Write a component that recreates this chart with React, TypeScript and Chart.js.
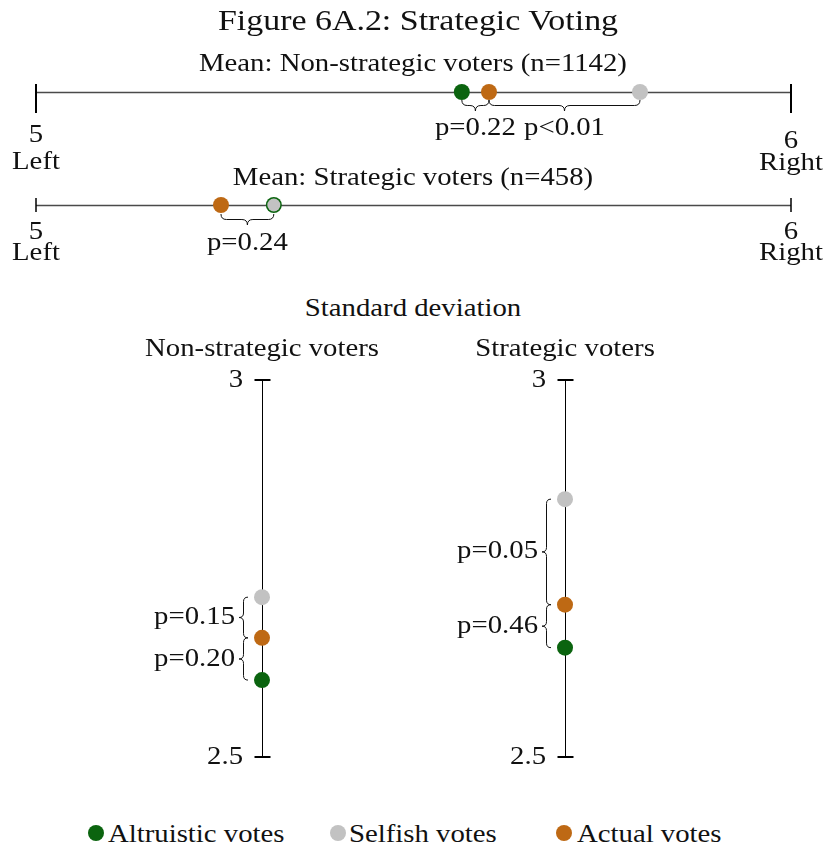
import React, { useEffect, useRef } from "react";
import { Chart, registerables } from "chart.js";

Chart.register(...registerables);

const FONT = '"Liberation Serif", "Times New Roman", serif';
const STRETCH = 1.15;
const INK = "#111111";

const GREEN = "#0b640f";
const GRAY = "#c2c2c2";
const ORANGE = "#be6914";

// ---- Means (left-right scale, 5 = Left, 6 = Right) ----
const meanRowTitles = ["Mean: Non-strategic voters (n=1142)", "Mean: Strategic voters (n=458)"];
const meanAltruistic = [5.564, 5.315];
const meanSelfish = [5.8, 5.315];
const meanActual = [5.6, 5.245];
const meanAxisMin = 5;
const meanAxisMax = 6;
const meanTickLabels = [["5", "Left"], ["6", "Right"]];
const meanBraceRow = [0, 0, 1];
const meanBraceFrom = [5.564, 5.6, 5.245];
const meanBraceTo = [5.6, 5.8, 5.315];
const meanBraceLabels = ["p=0.22", "p<0.01", "p=0.24"];

// ---- Standard deviations ----
const sdGroups = ["Non-strategic voters", "Strategic voters"];
const sdAltruistic = [2.602, 2.645];
const sdSelfish = [2.712, 2.842];
const sdActual = [2.658, 2.702];
const sdAxisMin = 2.5;
const sdAxisMax = 3;
const sdTickLabels = ["2.5", "3"];
const sdBraceGroup = [0, 0, 1, 1];
const sdBraceFrom = [2.712, 2.658, 2.842, 2.702];
const sdBraceTo = [2.658, 2.602, 2.702, 2.645];
const sdBraceLabels = ["p=0.15", "p=0.20", "p=0.05", "p=0.46"];

const seriesNames = ["Altruistic votes", "Selfish votes", "Actual votes"];
const seriesColors = [GREEN, GRAY, ORANGE];

function sText(ctx: CanvasRenderingContext2D, t: string, x: number, y: number, align: CanvasTextAlign, size = 25) {
  ctx.save();
  ctx.translate(x, y);
  ctx.scale(STRETCH, 1);
  ctx.font = `${size}px ${FONT}`;
  ctx.textAlign = align;
  ctx.textBaseline = "middle";
  ctx.fillStyle = INK;
  ctx.fillText(t, 0, 0);
  ctx.restore();
}

// brace along "t" axis from a to b, depth from 0 (edge) to h (tip); map(t,d) -> [x,y]
function brace(ctx: CanvasRenderingContext2D, a: number, b: number, h: number, map: (t: number, d: number) => [number, number]) {
  const mid = (a + b) / 2;
  const s = b > a ? 1 : -1;
  const q = Math.min(h / 2, Math.abs(b - a) / 4) * s;
  const P = (t: number, d: number) => map(t, d);
  ctx.save();
  ctx.strokeStyle = INK;
  ctx.lineWidth = 1;
  ctx.beginPath();
  let p = P(a, 0);
  ctx.moveTo(p[0], p[1]);
  let c = P(a, h / 2); p = P(a + q, h / 2);
  ctx.quadraticCurveTo(c[0], c[1], p[0], p[1]);
  p = P(mid - q, h / 2); ctx.lineTo(p[0], p[1]);
  c = P(mid, h / 2); p = P(mid, h);
  ctx.quadraticCurveTo(c[0], c[1], p[0], p[1]);
  c = P(mid, h / 2); p = P(mid + q, h / 2);
  ctx.quadraticCurveTo(c[0], c[1], p[0], p[1]);
  p = P(b - q, h / 2); ctx.lineTo(p[0], p[1]);
  c = P(b, h / 2); p = P(b, 0);
  ctx.quadraticCurveTo(c[0], c[1], p[0], p[1]);
  ctx.stroke();
  ctx.restore();
}

const meanAxesPlugin = {
  id: "meanAxes",
  beforeDatasetsDraw(chart: any) {
    const { ctx, scales } = chart;
    const x = scales.x, y = scales.y;
    const x0 = x.getPixelForValue(meanAxisMin);
    const x1 = x.getPixelForValue(meanAxisMax);
    meanRowTitles.forEach((_, r) => {
      const py = y.getPixelForValue(1 - r);
      ctx.save();
      ctx.strokeStyle = "#4a4a4a";
      ctx.lineWidth = 1.6;
      ctx.beginPath();
      ctx.moveTo(x0, py + 0.5);
      ctx.lineTo(x1, py + 0.5);
      ctx.stroke();
      ctx.strokeStyle = "#000";
      ctx.lineWidth = r === 0 ? 2 : 1.5;
      const up = r === 0 ? 8 : 7;
      const down = r === 0 ? 21 : 7;
      [x0, x1].forEach((px) => {
        ctx.beginPath();
        ctx.moveTo(px, py - up);
        ctx.lineTo(px, py + down);
        ctx.stroke();
      });
      ctx.restore();
      if (r === 0) {
        sText(ctx, meanTickLabels[0][0], x0, py + 43, "center");
        sText(ctx, meanTickLabels[0][1], x0, py + 70, "center");
        sText(ctx, meanTickLabels[1][0], x1, py + 49, "center");
        sText(ctx, meanTickLabels[1][1], x1, py + 71, "center");
      } else {
        sText(ctx, meanTickLabels[0][0], x0, py + 27, "center");
        sText(ctx, meanTickLabels[0][1], x0, py + 48, "center");
        sText(ctx, meanTickLabels[1][0], x1, py + 27, "center");
        sText(ctx, meanTickLabels[1][1], x1, py + 48, "center");
      }
    });
    meanBraceLabels.forEach((lab, i) => {
      const r = meanBraceRow[i];
      const py = y.getPixelForValue(1 - r);
      const a = x.getPixelForValue(meanBraceFrom[i]);
      const b = x.getPixelForValue(meanBraceTo[i]);
      const edge = py + (r === 0 ? 8 : 9);
      brace(ctx, a, b, 11, (t, d) => [t, edge + d]);
      sText(ctx, lab, (a + b) / 2, py + (r === 0 ? 36 : 38), "center");
    });
  },
};

const sdAxesPlugin = {
  id: "sdAxes",
  beforeDatasetsDraw(chart: any) {
    const { ctx, scales } = chart;
    const x = scales.x, y = scales.y;
    const yTop = y.getPixelForValue(sdAxisMax);
    const yBot = y.getPixelForValue(sdAxisMin);
    sdGroups.forEach((_, g) => {
      const px = x.getPixelForValue(g);
      ctx.save();
      ctx.strokeStyle = "#000";
      ctx.lineWidth = 1;
      ctx.beginPath();
      ctx.moveTo(px + 0.5, yTop);
      ctx.lineTo(px + 0.5, yBot);
      ctx.stroke();
      ctx.lineWidth = 2;
      [yTop, yBot].forEach((py) => {
        ctx.beginPath();
        ctx.moveTo(px - 7.5, py);
        ctx.lineTo(px + 8.5, py);
        ctx.stroke();
      });
      ctx.restore();
      sText(ctx, sdTickLabels[1], px - 19, yTop, "right");
      sText(ctx, sdTickLabels[0], px - 19, yBot, "right");
    });
    sdBraceLabels.forEach((lab, i) => {
      const px = x.getPixelForValue(sdBraceGroup[i]);
      const a = y.getPixelForValue(sdBraceFrom[i]);
      const b = y.getPixelForValue(sdBraceTo[i]);
      const edge = px - 14;
      brace(ctx, a, b, 9, (t, d) => [edge - d, t]);
      sText(ctx, lab, px - 27, (a + b) / 2, "right");
    });
  },
};

function Label(props: { x: number; y: number; text: string; size?: number; align?: "center" | "left" }) {
  const { x, y, text, size = 25, align = "center" } = props;
  const style: React.CSSProperties = {
    position: "absolute",
    left: x,
    top: y,
    whiteSpace: "nowrap",
    font: `${size}px ${FONT}`,
    lineHeight: 1,
    color: INK,
    transform: align === "center" ? `translate(-50%, -50%) scaleX(${STRETCH})` : `translateY(-50%) scaleX(${STRETCH})`,
    transformOrigin: align === "center" ? "center center" : "left center",
  };
  return <div style={style}>{text}</div>;
}

export default function App() {
  const meanRef = useRef<HTMLCanvasElement | null>(null);
  const sdRef = useRef<HTMLCanvasElement | null>(null);

  useEffect(() => {
    const pointOpts = { pointBorderWidth: 0, showLine: false };
    const meanChart = new Chart(meanRef.current!, {
      type: "scatter",
      data: {
        datasets: [
          {
            label: seriesNames[0],
            data: meanAltruistic.map((v, r) => ({ x: v, y: 1 - r })),
            backgroundColor: GREEN,
            pointRadius: 8,
            order: 3,
            ...pointOpts,
          },
          {
            label: seriesNames[1],
            data: meanSelfish.map((v, r) => ({ x: v, y: 1 - r })),
            backgroundColor: GRAY,
            pointRadius: [8, 6.5],
            order: 2,
            ...pointOpts,
          },
          {
            label: seriesNames[2],
            data: meanActual.map((v, r) => ({ x: v, y: 1 - r })),
            backgroundColor: ORANGE,
            pointRadius: 8,
            order: 1,
            ...pointOpts,
          },
        ] as any,
      },
      options: {
        responsive: false,
        animation: false,
        events: [],
        clip: false as any,
        layout: { padding: { left: 36, right: 36, top: 92, bottom: 85 } },
        plugins: { legend: { display: false }, tooltip: { enabled: false }, title: { display: false } },
        scales: {
          x: { type: "linear", min: meanAxisMin, max: meanAxisMax, display: false },
          y: { type: "linear", min: 0, max: 1, display: false },
        },
      },
      plugins: [meanAxesPlugin],
    });

    const sdChart = new Chart(sdRef.current!, {
      type: "scatter",
      data: {
        datasets: [
          {
            label: seriesNames[0],
            data: sdAltruistic.map((v, g) => ({ x: g, y: v })),
            backgroundColor: GREEN,
            pointRadius: 8,
            order: 3,
            ...pointOpts,
          },
          {
            label: seriesNames[1],
            data: sdSelfish.map((v, g) => ({ x: g, y: v })),
            backgroundColor: GRAY,
            pointRadius: 8,
            order: 2,
            ...pointOpts,
          },
          {
            label: seriesNames[2],
            data: sdActual.map((v, g) => ({ x: g, y: v })),
            backgroundColor: ORANGE,
            pointRadius: 8,
            order: 1,
            ...pointOpts,
          },
        ] as any,
      },
      options: {
        responsive: false,
        animation: false,
        events: [],
        clip: false as any,
        layout: { padding: { left: 262, right: 262, top: 20, bottom: 23 } },
        plugins: { legend: { display: false }, tooltip: { enabled: false }, title: { display: false } },
        scales: {
          x: { type: "linear", min: 0, max: 1, display: false },
          y: { type: "linear", min: sdAxisMin, max: sdAxisMax, display: false },
        },
      },
      plugins: [sdAxesPlugin],
    });

    return () => {
      meanChart.destroy();
      sdChart.destroy();
    };
  }, []);

  const legendDots = [96, 338, 564];
  const legendText = [108, 349, 577];

  return (
    <div style={{ position: "absolute", left: 0, top: 0, width: 827, height: 850, background: "#fff", overflow: "hidden" }}>
      <canvas ref={meanRef} width={827} height={290} style={{ position: "absolute", left: 0, top: 0, width: 827, height: 290 }} />
      <canvas ref={sdRef} width={827} height={420} style={{ position: "absolute", left: 0, top: 360, width: 827, height: 420 }} />
      <Label x={418} y={21} text="Figure 6A.2: Strategic Voting" size={29.5} />
      <Label x={413} y={62} text={meanRowTitles[0]} />
      <Label x={413} y={176} text={meanRowTitles[1]} />
      <Label x={413} y={307} text="Standard deviation" />
      <Label x={262} y={347} text={sdGroups[0]} />
      <Label x={565} y={347} text={sdGroups[1]} />
      {seriesNames.map((n, i) => (
        <React.Fragment key={n}>
          <div
            style={{
              position: "absolute",
              left: legendDots[i] - 8,
              top: 833 - 8,
              width: 16,
              height: 16,
              borderRadius: "50%",
              background: seriesColors[i],
            }}
          />
          <Label x={legendText[i]} y={833} text={n} align="left" />
        </React.Fragment>
      ))}
    </div>
  );
}
